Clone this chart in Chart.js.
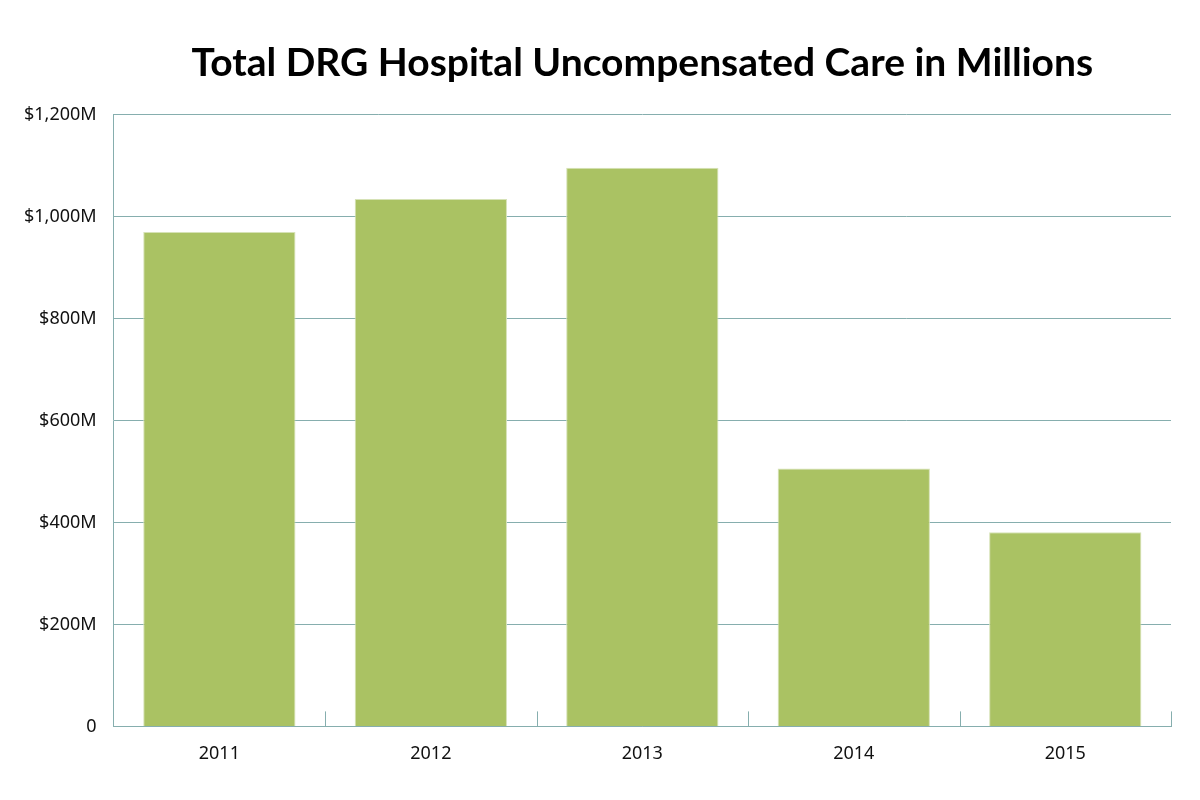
<!DOCTYPE html>
<html>
<head>
<meta charset="utf-8">
<script src="https://cdn.jsdelivr.net/npm/chart.js@4.4.1/dist/chart.umd.min.js"></script>
<style>
  html, body { margin: 0; padding: 0; background: #fff; }
  #wrap { width: 1200px; height: 800px; }
</style>
</head>
<body>
<div id="wrap"><canvas id="careChart" width="1200" height="800"></canvas></div>
<script>
const years = ['2011', '2012', '2013', '2014', '2015'];
const careMillions = [970, 1035, 1096, 506, 381];
const yTicks = [0, 200, 400, 600, 800, 1000, 1200];

const lineColor = '#86aeae';

// little tick marks standing up from the x axis between the categories
const categoryTicks = {
  id: 'categoryTicks',
  afterDraw(chart) {
    const x = chart.scales.x;
    const bottom = chart.chartArea.bottom;
    const ctx = chart.ctx;
    ctx.save();
    ctx.strokeStyle = lineColor;
    ctx.lineWidth = 1;
    for (let i = 0; i < years.length; i++) {
      let px;
      if (i < years.length - 1) {
        px = (x.getPixelForValue(i) + x.getPixelForValue(i + 1)) / 2;
      } else {
        px = x.right;
      }
      px = Math.round(px) + 0.5;
      ctx.beginPath();
      ctx.moveTo(px, bottom);
      ctx.lineTo(px, bottom - 15);
      ctx.stroke();
    }
    ctx.restore();
  }
};

new Chart(document.getElementById('careChart'), {
  type: 'bar',
  data: {
    labels: years,
    datasets: [{
      data: careMillions,
      backgroundColor: '#aac263',
      borderColor: '#d6e2b6',
      borderWidth: 1,
      barPercentage: 0.72,
      categoryPercentage: 1
    }]
  },
  options: {
    responsive: false,
    animation: false,
    layout: {
      padding: { left: 7, right: 29, top: 40, bottom: 26 }
    },
    plugins: {
      legend: { display: false },
      tooltip: { enabled: false },
      title: {
        display: true,
        fullSize: false,
        text: 'Total DRG Hospital Uncompensated Care in Millions',
        color: '#000',
        font: { family: 'Lato', size: 39, weight: 'bold' },
        padding: { top: 0, bottom: 28 }
      }
    },
    scales: {
      x: {
        grid: { display: false },
        border: { display: true, color: lineColor, width: 1 },
        ticks: {
          color: '#111',
          font: { family: 'Noto Sans', size: 18 },
          padding: 9
        }
      },
      y: {
        min: 0,
        max: 1200,
        afterBuildTicks(axis) {
          axis.ticks = yTicks.map(v => ({ value: v }));
        },
        grid: {
          color: lineColor,
          lineWidth: 1,
          drawTicks: false
        },
        border: { display: true, color: lineColor, width: 1 },
        ticks: {
          color: '#111',
          font: { family: 'Noto Sans', size: 18 },
          padding: 17,
          callback: function(value) {
            if (value === 0) return '0';
            return '$' + value.toLocaleString('en-US') + 'M';
          }
        }
      }
    }
  },
  plugins: [categoryTicks]
});
</script>
</body>
</html>
